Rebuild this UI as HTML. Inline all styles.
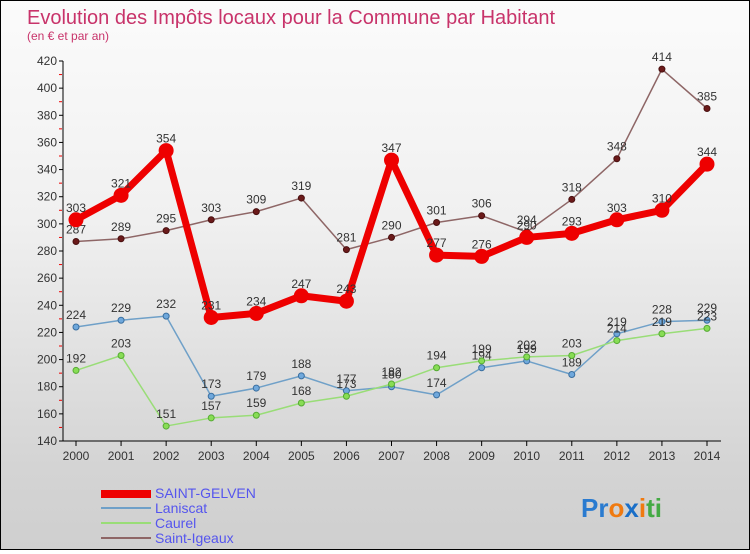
<!DOCTYPE html>
<html><head><meta charset="utf-8"><style>
html,body{margin:0;padding:0}
body{width:750px;height:550px;overflow:hidden;font-family:"Liberation Sans",sans-serif}
#wrap{position:relative;width:748px;height:548px;border:1px solid #000;background:linear-gradient(#fbfbfb,#f0f0f0 40%,#d4d4d4 85%,#cfcfcf)}
</style></head><body>
<div id="wrap">
<svg id="chart" width="748" height="548" xmlns="http://www.w3.org/2000/svg">
<text x="26" y="23" font-size="20" fill="#c8336a">Evolution des Impôts locaux pour la Commune par Habitant</text>
<text x="26" y="39" font-size="12" fill="#c8336a">(en € et par an)</text>
<g id="axes"></g><g id="series"></g>
<g>
<rect x="100" y="489" width="50" height="8" fill="#ee0000"/>
<text x="154" y="497" font-size="14" fill="#5555ee">SAINT-GELVEN</text>
<rect x="100" y="506" width="50" height="2" fill="#6fa0c8"/>
<text x="154" y="512" font-size="14" fill="#5555ee">Laniscat</text>
<rect x="100" y="521" width="50" height="2" fill="#99dd77"/>
<text x="154" y="527" font-size="14" fill="#5555ee">Caurel</text>
<rect x="100" y="536" width="50" height="2" fill="#8e6666"/>
<text x="154" y="542" font-size="14" fill="#5555ee">Saint-Igeaux</text>
</g>
<text x="580" y="516" font-size="26" font-weight="bold"><tspan fill="#2a7bd0">Pr</tspan><tspan fill="#f07a10">o</tspan><tspan fill="#1a6fc8">x</tspan><tspan fill="#f07a10">i</tspan><tspan fill="#44aa44">ti</tspan></text>
</svg></div>
<script>
const years=["2000","2001","2002","2003","2004","2005","2006","2007","2008","2009","2010","2011","2012","2013","2014"];
const yTicks=[140,160,180,200,220,240,260,280,300,320,340,360,380,400,420];
const saintGelven=[303,321,354,231,234,247,243,347,277,276,290,293,303,310,344];
const laniscat=[224,229,232,173,179,188,177,180,174,194,199,189,219,228,229];
const caurel=[192,203,151,157,159,168,173,182,194,199,202,203,214,219,223];
const saintIgeaux=[287,289,295,303,309,319,281,290,301,306,294,318,348,414,385];
const NS="http://www.w3.org/2000/svg";
const x=i=>75+i*(706-75)/(years.length-1);
const y=v=>440-(v-140)*(380/280);
function mk(t,a,p){const e=document.createElementNS(NS,t);for(const k in a)e.setAttribute(k,a[k]);p.appendChild(e);return e;}
const ax=document.getElementById('axes');
let e=mk('line',{x1:62,y1:y(420),x2:62,y2:440,stroke:'#000'},ax);


e=mk('line',{x1:62,y1:440,x2:720,y2:440,stroke:'#000'},ax);


yTicks.forEach(v=>{
 mk('line',{x1:58,y1:y(v),x2:62,y2:y(v),stroke:'#000'},ax);
 if(v<420)mk('line',{x1:58,y1:y(v+10),x2:61,y2:y(v+10),stroke:'#e00'},ax);
 const t=mk('text',{x:56,y:y(v)+4,'font-size':12,fill:'#333','text-anchor':'end'},ax);
 t.textContent=v;
 
 
});
years.forEach((yr,i)=>{
 mk('line',{x1:x(i),y1:440,x2:x(i),y2:445,stroke:'#000'},ax);
 const t=mk('text',{x:x(i),y:459,'font-size':12,fill:'#333','text-anchor':'middle'},ax);
 t.textContent=yr;
 
 
});
const sg=document.getElementById('series');
function series(name,data,color,w,r,dot,dotStroke){
 const g=mk('g',{},sg);
 
 
 const l=mk('polyline',{points:data.map((v,i)=>x(i)+','+y(v)).join(' '),fill:'none',stroke:color,'stroke-width':w,'stroke-linejoin':'round'},g);
 
 
 data.forEach((v,i)=>{
  const c=mk('circle',{cx:x(i),cy:y(v),r:r,fill:dot,stroke:dotStroke,'stroke-width':1},g);
  
  
  const t=mk('text',{x:x(i),y:y(v)-8,'font-size':12,fill:'#333','text-anchor':'middle'},g);
  t.textContent=v;
  
  
 });
}
series('laniscat',laniscat,'#6fa0c8',1.5,3,'#6fa8dc','#3a6fa0');
series('caurel',caurel,'#99dd77',1.5,3,'#88dd55','#55aa33');
series('saint-igeaux',saintIgeaux,'#8e6666',1.5,3,'#6b1a1a','#4a1010');
series('saint-gelven',saintGelven,'#ee0000',7,7,'#ee0000','#ee0000');
</script>
</body></html>
